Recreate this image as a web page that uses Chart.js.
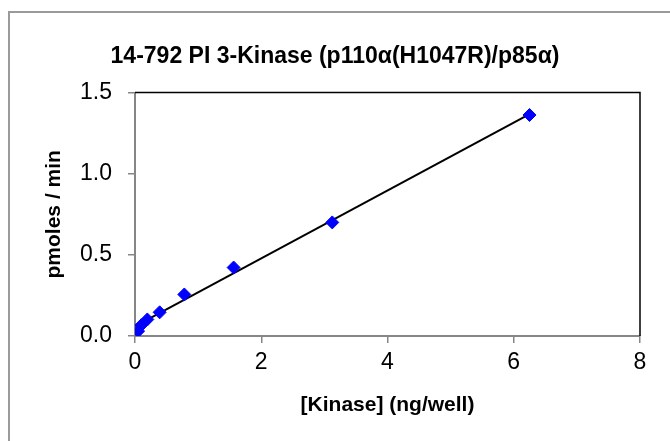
<!DOCTYPE html>
<html>
<head>
<meta charset="utf-8">
<script src="https://cdn.jsdelivr.net/npm/chart.js@4.4.1/dist/chart.umd.min.js"></script>
<style>
  html, body { margin: 0; padding: 0; background: #fff; }
  #c { display: block; }
</style>
</head>
<body>
<canvas id="c" width="670" height="441"></canvas>
<script>
// ---- data ----
const kinase = [0.0488, 0.0977, 0.1953, 0.3906, 0.7813, 1.5625, 3.125, 6.25];   // ng/well
const rate   = [0.030, 0.066, 0.102, 0.146, 0.256, 0.422, 0.700, 1.362];       // pmoles/min
const xTicks = [0, 2, 4, 6, 8];
const yTicks = [0.0, 0.5, 1.0, 1.5];
const chartTitle = '14-792 PI 3-Kinase (p110\u03b1(H1047R)/p85\u03b1)';
const xTitle = '[Kinase] (ng/well)';
const yTitle = 'pmoles / min';

// linear least-squares trendline (like Excel's) across the data range
function fit(xs, ys) {
  const n = xs.length;
  let sx = 0, sy = 0, sxx = 0, sxy = 0;
  for (let i = 0; i < n; i++) { sx += xs[i]; sy += ys[i]; sxx += xs[i]*xs[i]; sxy += xs[i]*ys[i]; }
  const m = (n*sxy - sx*sy) / (n*sxx - sx*sx);
  const b = (sy - m*sx) / n;
  return { m, b };
}
const lf = fit(kinase, rate);
const xMin = Math.min(...kinase), xMax = Math.max(...kinase);
const trend = [{x: xMin, y: lf.m*xMin + lf.b}, {x: xMax, y: lf.m*xMax + lf.b}];
const points = kinase.map((x, i) => ({x, y: rate[i]}));

const FONT = '"Liberation Sans", Arial, sans-serif';
const AXIS_GRAY = '#868686';

const frame = {
  id: 'frame',
  afterDraw(chart) {
    const {ctx, chartArea: a} = chart;
    ctx.save();
    // plot area top/right border
    ctx.strokeStyle = '#000';
    ctx.lineWidth = 1.5;
    ctx.beginPath();
    ctx.moveTo(a.left, a.top);
    ctx.lineTo(a.right, a.top);
    ctx.lineTo(a.right, a.bottom);
    ctx.stroke();
    // outer chart border (left + top visible)
    ctx.strokeStyle = '#9a9a9a';
    ctx.lineWidth = 2;
    ctx.beginPath();
    ctx.moveTo(9, 441);
    ctx.lineTo(9, 12);
    ctx.lineTo(670, 12);
    ctx.stroke();
    ctx.restore();
  }
};

new Chart(document.getElementById('c'), {
  type: 'scatter',
  data: {
    datasets: [
      {
        type: 'line',
        data: trend,
        borderColor: '#000',
        borderWidth: 2,
        pointRadius: 0,
        fill: false,
        order: 2
      },
      {
        data: points,
        pointStyle: 'rectRot',
        pointRadius: 6.5,
        pointBackgroundColor: '#0000ff',
        pointBorderColor: '#0000ff',
        pointBorderWidth: 1,
        showLine: false,
        order: 1
      }
    ]
  },
  options: {
    responsive: false,
    animation: false,
    devicePixelRatio: 1,
    layout: { padding: { left: 0, right: 0, top: 0, bottom: 0 } },
    plugins: {
      legend: { display: false },
      tooltip: { enabled: false },
      title: {
        display: true,
        text: chartTitle,
        color: '#000',
        font: { family: FONT, size: 23, weight: 'bold' },
        padding: { top: 43, bottom: 22 }
      }
    },
    scales: {
      x: {
        type: 'linear',
        min: 0, max: 8,
        afterBuildTicks(s) { s.ticks = xTicks.map(v => ({value: v})); },
        afterFit(s) { s.height = 105; },
        ticks: {
          color: '#000',
          font: { family: FONT, size: 23 },
          padding: 6,
          maxRotation: 0,
          callback: v => String(v)
        },
        grid: { display: true, drawOnChartArea: false, drawTicks: true, tickLength: 7, color: AXIS_GRAY, lineWidth: 1.5 },
        border: { display: true, color: AXIS_GRAY, width: 2 },
        title: {
          display: true, text: xTitle, color: '#000',
          font: { family: FONT, size: 21, weight: 'bold' },
          padding: { top: 0, bottom: 23 }
        }
      },
      y: {
        type: 'linear',
        min: 0, max: 1.5,
        afterBuildTicks(s) { s.ticks = yTicks.map(v => ({value: v})); },
        afterFit(s) { s.width = 135; },
        ticks: {
          color: '#000',
          font: { family: FONT, size: 23 },
          padding: 16,
          callback: v => Number(v).toFixed(1)
        },
        grid: { display: true, drawOnChartArea: false, drawTicks: true, tickLength: 7, color: AXIS_GRAY, lineWidth: 1.5 },
        border: { display: true, color: AXIS_GRAY, width: 2 },
        title: {
          display: true, text: yTitle, color: '#000',
          font: { family: FONT, size: 21, weight: 'bold' },
          padding: { top: 42, bottom: 0 }
        }
      },
      spacer: {
        type: 'linear',
        position: 'right',
        display: true,
        min: 0, max: 1,
        afterFit(s) { s.width = 30; },
        ticks: { display: false },
        grid: { display: false, drawTicks: false },
        border: { display: false },
        title: { display: false }
      }
    }
  },
  plugins: [frame]
});
</script>
</body>
</html>
